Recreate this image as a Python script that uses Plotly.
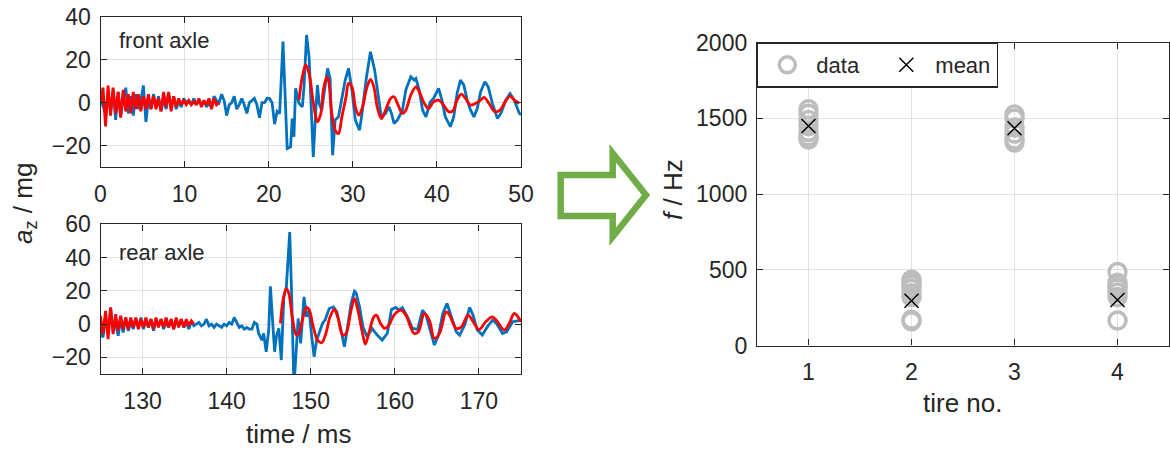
import plotly.graph_objects as go

# ---------------- data: front axle (top-left) ----------------
front_meas_t = [0.0, 0.3, 0.6, 0.9, 1.2, 1.5, 1.8, 2.1, 2.4, 2.7, 3.0, 3.3, 3.6, 3.9, 4.2, 4.5, 4.8, 5.1, 5.4, 5.7,
                6.0, 6.3, 6.6, 6.9, 7.2, 7.5, 7.8, 8.1, 8.4, 8.7, 9.0, 9.3, 9.6, 9.9, 10.2, 10.5, 10.8, 11.1, 11.4, 11.7,
                12.0, 12.3, 12.6, 12.9, 13.2, 13.5, 13.8, 14.1, 14.4, 14.7, 15.0, 15.3, 15.6, 15.9, 16.2, 16.5, 16.8, 17.1,
                17.4, 17.7, 18.0, 18.3, 18.6, 18.9, 19.2, 19.5, 19.8, 20.1, 20.4, 20.7, 21.0, 21.3,
                21.7, 22.2, 22.6, 22.8, 23.0, 23.2, 23.6, 24.0, 24.2, 24.5, 24.8, 25.1, 25.3, 25.6, 25.8, 26.0, 26.3,
                27.0, 27.3, 27.6, 27.9, 28.3, 28.7, 29.1, 29.5, 29.9, 30.3, 30.8, 31.1, 31.6, 32.1, 32.6, 33.1, 33.4,
                33.9, 34.3, 34.6, 34.9, 35.3, 35.9, 36.3, 36.9, 37.3, 37.5, 37.9, 38.3, 38.7, 39.2, 39.6, 40.2, 40.6,
                41.0, 41.6, 42.0, 42.4, 42.8, 43.2, 43.6, 44.0, 44.4, 44.8, 45.2, 45.7, 46.1, 46.6, 47.2, 47.6, 48.2,
                48.7, 49.2, 49.8, 50.0]
front_meas_v = [2, -2, -5, 3, -4, 6, -8, 5, -6, 2, 7, -5, 3, -6, 4, -3, 1, 8, -9, 2,
                -3, 4, -2, 3, -4, 2, -3, 4, -2, 3, -3, 1, -2, 2, 0, 1, -1, 2, -1, 1,
                -1, 1, -2, 0, -2, 3, 1, 0, 4, 1, -6, -1, 0, 3, -3, -1, 2, -1,
                -5, 0, 1, 2, -1, -7, 0, 0, 2, 2, 0, -10, -4, -5,
                28.5, -21.4, -20.6, -7.4, -15.9, 6.7, -0.3, -1.9, 7.4, 31.6, 21.5, -8.1, -25.3, -3.5, 8.2, -0.3, -3.5,
                16, 11.3, -24.5, -8.1, -6.6, 1.2, 10.6, 16, 5.9, -8.1, -12.8, -5, 11.3, 23.8, 15.2, 1.2, -6.6,
                -5, -1.9, -5, -9.7, -8.1, -3.5, 5.9, 12.1, 10.6, 11.3, 5.9, -3.5, -6.6, 0.4, 2, 6.7, 1.2,
                -6.6, -11.2, -6.6, 4.3, 10.6, 8.2, 1.2, -3.5, -6.6, -2.7, 5.1, 9.8, 7.4, -0.3, -7.4, -5, 1.2,
                4.3, 1.2, -5, -5.5]

front_model_early_t = [0.0, 0.3, 0.6, 0.9, 1.2, 1.5, 1.8, 2.1, 2.4, 2.7, 3.0, 3.3, 3.6, 3.9, 4.2, 4.5, 4.8, 5.1,
                       5.4, 5.7, 6.0, 6.3, 6.6, 6.9, 7.2, 7.5, 7.8, 8.1, 8.4, 8.7, 9.0, 9.3, 9.6, 9.9, 10.2, 10.5,
                       10.8, 11.1, 11.4, 11.7, 12.0, 12.3, 12.6, 12.9, 13.2, 13.5, 13.8, 14.1]
front_model_early_v = [0, 7, -11, 8, -6, 7, -5, 5, -7, 6, -4, 4, -5, 5, -3, 4, -4, 3,
                       -3, 4, -3, 3, -3, 2, -4, 5, -2, 5, -4, 3, -2, 2, -1, 1, -1, 1,
                       -1, 0.5, -1, 2, -2, 1, -1, 2, -3, 2, -1, 0]

front_model_late_t = [23.6, 24.0, 24.4, 24.8, 25.2, 25.6, 25.8, 26.2, 26.5, 26.9, 27.1, 27.5, 28.0, 28.3, 28.7,
                      29.2, 29.5, 29.9, 30.3, 30.7, 31.1, 31.7, 32.1, 32.5, 32.9, 33.4, 33.9, 34.5, 34.9, 35.3,
                      35.9, 36.3, 36.9, 37.5, 37.9, 38.5, 39.0, 39.6, 40.2, 40.8, 41.4, 41.9, 42.4, 42.9, 43.4,
                      44.0, 44.6, 45.2, 45.6, 46.2, 46.9, 47.5, 48.1, 48.7, 49.2, 49.8]
front_model_late_v = [1.2, 12.1, 17.6, 13.7, 2.8, -6.6, -8.9, -5, 5.9, 12.1, 10.6, -5, -13.6, -14.4, -6.6,
                      2.8, 9, 7.4, -1.9, -5.8, -2.7, 7.4, 10.9, 7.4, -1.9, -7.4, -3.5, 2, 2.8, -0.3,
                      -5, -3.5, 3.6, 7.4, 5.1, -0.3, -2.7, 0.4, 1.2, -1.1, -4.2, -3.8, 1.2, 4, 2,
                      -1.1, -0.3, 1.2, 2.5, -0.3, -4.2, -3.5, 0.4, 3.1, 1.2, -0.3]

# ---------------- data: rear axle (bottom-left) ----------------
rear_meas_t = [125.0, 125.3, 125.6, 125.9, 126.2, 126.5, 126.8, 127.1, 127.4, 127.7,
               128.0, 128.3, 128.6, 128.9, 129.2, 129.5, 129.8, 130.1, 130.4, 130.7,
               131.0, 131.3, 131.6, 131.9, 132.2, 132.5, 132.8, 133.1, 133.4, 133.7,
               134.0, 134.3, 134.6, 134.9, 135.2, 135.5, 135.8, 136.1, 136.4, 136.7,
               137.0, 137.3, 137.6, 137.9, 138.2, 138.5, 138.8, 139.1, 139.4, 139.7,
               140.0, 140.3, 140.6, 140.9, 141.2, 141.5, 141.8, 142.1, 142.4, 142.7,
               143.0, 143.3, 143.6,
               143.8, 144.2, 144.4, 144.7, 145.0, 145.2, 145.5, 145.7, 145.9, 146.2, 146.5, 146.8, 147.1,
               147.5, 147.7, 148.0, 148.3, 148.5, 148.8, 149.2, 149.5, 149.8, 150.1, 150.4, 150.7, 151.0,
               151.4, 151.7, 152.2, 152.7, 153.1, 153.6, 154.0, 154.2, 154.8, 155.2, 155.4, 155.8, 156.2,
               156.7, 157.3, 157.9, 158.5, 159.1, 159.6, 160.1, 160.5, 160.9, 161.5, 162.1, 162.7, 163.3,
               163.7, 164.2, 164.7, 165.2, 165.7, 166.2, 166.7, 167.3, 167.7, 168.3, 168.9, 169.3, 169.8,
               170.4, 171.0, 171.6, 172.1, 172.8, 173.3, 174.0, 175.0]
rear_meas_v = [-4, -8, 4, -6, 10, -4, 1, -7, 3, -5,
               4, -4, 1, -3, 3, -2, 4, -3, 2, -2,
               3, -4, 2, -1, 3, -3, 1, -2, 3, -3,
               2, -1, 3, -2, 1, -3, 2, -1, 0, 1,
               -1, 0, 3, -1, 0, -2, 0, -1, -2, 0,
               -1, 1, 0, 4, 1, -2, -1, -3, -2, -3,
               -3, 1, 0,
               -5.6, -9.6, -5.6, -16.6, -3.6, 22.8, -1.6, -16.6, -7.6, -2.6, -21.6, 16.4, 22.4,
               55.4, 22.4, -38, -13.6, 3.4, -11.6, 16.4, 4.4, 8.4, -6.6, -19.6, -9.6, -5.6,
               0.4, 2.4, 9.4, 10.4, 7.4, -3.6, -13.6, -7.6, 12.4, 19.8, 18.8, 10.4, -1.6,
               -7.6, -2.6, -6.6, -9.6, -5.6, 8.8, 10, 8.4, 10, 4.4, -2.6, -3.2, 8.4,
               5.4, -3.6, -12.6, -6.6, 6.4, 12.4, 4.4, -4.6, -6.6, -0.6, 10, 5.4, -3.6,
               -6.6, -1.6, 2.4, 0.4, -5.6, -4.6, 1.4, 2.4]

rear_model_early_t = [125.0, 125.3, 125.6, 125.9, 126.2, 126.5, 126.8, 127.1, 127.4, 127.7,
                      128.0, 128.3, 128.6, 128.9, 129.2, 129.5, 129.8, 130.1, 130.4, 130.7,
                      131.0, 131.3, 131.6, 131.9, 132.2, 132.5, 132.8, 133.1, 133.4, 133.7,
                      134.0, 134.3, 134.6, 134.9, 135.2, 135.5, 135.8, 136.1]
rear_model_early_v = [5, -6, 8, -9, 10, -6, 6, -4, 5, -3,
                      4, -3, 4, -2, 4, -3, 3, -2, 4, -2,
                      3, -3, 4, -2, 3, -2, 4, -2, 3, -3,
                      4, -2, 3, -2, 3, -1, 2, 0]

rear_model_late_t = [146.4, 146.7, 147.1, 147.4, 147.8, 148.3, 148.6, 149.0, 149.5, 149.8, 150.3, 150.8, 151.3,
                     151.8, 152.3, 152.8, 153.2, 153.8, 154.2, 154.8, 155.2, 155.6, 156.2, 156.5, 157.0, 157.5,
                     157.8, 158.3, 158.8, 159.3, 159.9, 160.7, 161.3, 162.3, 162.8, 163.5, 164.1, 164.7, 165.3,
                     166.1, 166.5, 167.3, 167.9, 168.7, 169.2, 170.0, 170.8, 171.6, 172.2, 173.0, 173.6, 174.2,
                     175.0]
rear_model_late_v = [0.4, 14.4, 21.4, 18.4, 4.4, -6.6, -5.6, 2.4, 10, 8.8, -1.6, -9.6, -11.2,
                     -5.6, 4.4, 8.8, 4.4, -6.6, -5.6, 8.4, 15.4, 8.4, -6.6, -12, -3.6, 4.4,
                     5.4, 0.4, -2.6, -0.6, 5.4, 8.4, 5.4, -5.6, -4.6, 6.4, 2.4, -8.6, -5.6,
                     7.4, 5.4, -2.6, -1.6, 5.4, 2.4, -3.2, 1.4, 4.4, 1.4, -3.6, 0.4, 6.4,
                     1.4]

# ---------------- data: eigenfrequency per tire (right) ----------------
tire_no = [1, 2, 3, 4]
tire_freqs = [
    [1560, 1530, 1490, 1450, 1410, 1380, 1360],
    [435, 420, 400, 375, 345, 320, 170, 160],
    [1525, 1500, 1440, 1400, 1360, 1340],
    [485, 415, 395, 380, 350, 320, 165],
]
tire_mean = [1450, 295, 1435, 300]

# ---------------- style ----------------
FONT = "Liberation Sans, Arial, Helvetica, sans-serif"
TXT = "#262626"
BLUE = "#0072BD"
RED = "#FF0000"
GRAY = "#BDBDBD"
GREEN = "#70AD47"
GRID = "#E2E2E2"
W, H = 1170, 450


def px(x):
    return x / W


def py(y):
    return 1 - y / H


fig = go.Figure()

LW = 2.8
fig.add_trace(go.Scatter(x=front_meas_t, y=front_meas_v, mode="lines", line=dict(color=BLUE, width=LW),
                         xaxis="x", yaxis="y", showlegend=False))
fig.add_trace(go.Scatter(x=front_model_early_t, y=front_model_early_v, mode="lines", line=dict(color=RED, width=LW),
                         xaxis="x", yaxis="y", showlegend=False))
fig.add_trace(go.Scatter(x=front_model_late_t, y=front_model_late_v, mode="lines",
                         line=dict(color=RED, width=LW, shape="spline"),
                         xaxis="x", yaxis="y", showlegend=False))

fig.add_trace(go.Scatter(x=rear_meas_t, y=rear_meas_v, mode="lines", line=dict(color=BLUE, width=LW),
                         xaxis="x2", yaxis="y2", showlegend=False))
fig.add_trace(go.Scatter(x=rear_model_early_t, y=rear_model_early_v, mode="lines", line=dict(color=RED, width=LW),
                         xaxis="x2", yaxis="y2", showlegend=False))
fig.add_trace(go.Scatter(x=rear_model_late_t, y=rear_model_late_v, mode="lines",
                         line=dict(color=RED, width=LW, shape="spline"),
                         xaxis="x2", yaxis="y2", showlegend=False))

data_x = [n for n, vals in zip(tire_no, tire_freqs) for _ in vals]
data_y = [v for vals in tire_freqs for v in vals]
fig.add_trace(go.Scatter(x=data_x, y=data_y, mode="markers", name="data",
                         marker=dict(symbol="circle-open", size=17, color=GRAY, line=dict(width=3.5, color=GRAY)),
                         xaxis="x3", yaxis="y3"))
fig.add_trace(go.Scatter(x=tire_no, y=tire_mean, mode="markers", name="mean",
                         marker=dict(symbol="x-thin", size=14, color="black", line=dict(width=1.5, color="black")),
                         xaxis="x3", yaxis="y3"))

axis_common = dict(showline=True, linecolor=TXT, linewidth=1.3, mirror="ticks", ticks="inside", ticklen=6,
                   tickcolor=TXT, tickwidth=1.3, showgrid=True, gridcolor=GRID, gridwidth=1, zeroline=False,
                   tickfont=dict(family=FONT, size=23, color=TXT))

fig.update_layout(
    width=W, height=H, margin=dict(l=0, r=0, t=0, b=0, pad=0, autoexpand=False),
    paper_bgcolor="white", plot_bgcolor="white",
    font=dict(family=FONT, color=TXT),
    xaxis=dict(axis_common, domain=[px(100.5), px(521)], range=[0, 50], tickvals=[0, 10, 20, 30, 40, 50],
               anchor="y", ticklabelstandoff=6),
    yaxis=dict(axis_common, domain=[py(167), py(17)], range=[-30, 40], tickvals=[-20, 0, 20, 40],
               anchor="x", ticklabelstandoff=4),
    xaxis2=dict(axis_common, domain=[px(100.5), px(521)], range=[125, 175], tickvals=[130, 140, 150, 160, 170],
                anchor="y2", ticklabelstandoff=6),
    yaxis2=dict(axis_common, domain=[py(374), py(224.4)], range=[-30, 60], tickvals=[-20, 0, 20, 40, 60],
                anchor="x2", ticklabelstandoff=4),
    xaxis3=dict(axis_common, domain=[px(757), px(1169)], range=[0.5, 4.5], tickvals=[1, 2, 3, 4],
                anchor="y3", ticklabelstandoff=6),
    yaxis3=dict(axis_common, domain=[py(345.5), py(42.7)], range=[0, 2000], tickvals=[0, 500, 1000, 1500, 2000],
                anchor="x3", ticklabelstandoff=4),
    legend=dict(x=px(757), y=py(42.7), xanchor="left", yanchor="top", orientation="h",
                bordercolor=TXT, borderwidth=1.3, bgcolor="white",
                font=dict(family=FONT, size=22, color=TXT), itemwidth=48,
                entrywidth=56, entrywidthmode="pixels"),
    showlegend=True,
)

annotations = [
    dict(text="front axle", x=px(117), y=py(40), xanchor="left", yanchor="middle", font=dict(size=22)),
    dict(text="rear axle", x=px(117), y=py(253), xanchor="left", yanchor="middle", font=dict(size=22)),
    dict(text="time / ms", x=px(298), y=py(434), xanchor="center", yanchor="middle", font=dict(size=26)),
    dict(text="<i>a</i><sub>z</sub> / mg", x=px(24), y=py(204), xanchor="center", yanchor="middle",
         textangle=-90, font=dict(size=26)),
    dict(text="tire no.", x=px(963), y=py(403), xanchor="center", yanchor="middle", font=dict(size=26)),
    dict(text="<i>f</i> / Hz", x=px(673), y=py(190), xanchor="center", yanchor="middle",
         textangle=-90, font=dict(size=26)),
]
for a in annotations:
    a.update(xref="paper", yref="paper", showarrow=False)
    a["font"] = dict(family=FONT, color=TXT, size=a["font"]["size"])
fig.update_layout(annotations=annotations)

# decorative green outline arrow between panels
pts = [(560.7, 175), (612.7, 175), (612.7, 153.3), (646, 195), (612.7, 236.7), (612.7, 216), (560.7, 216)]
path = "M " + " L ".join(f"{px(x):.5f},{py(y):.5f}" for x, y in pts) + " Z"
fig.add_shape(type="path", path=path, xref="paper", yref="paper",
              line=dict(color=GREEN, width=6.5), fillcolor="white", layer="above")

fig.write_html("out.html", config={"displayModeBar": False},
               post_script="document.body.style.margin='0px';")
